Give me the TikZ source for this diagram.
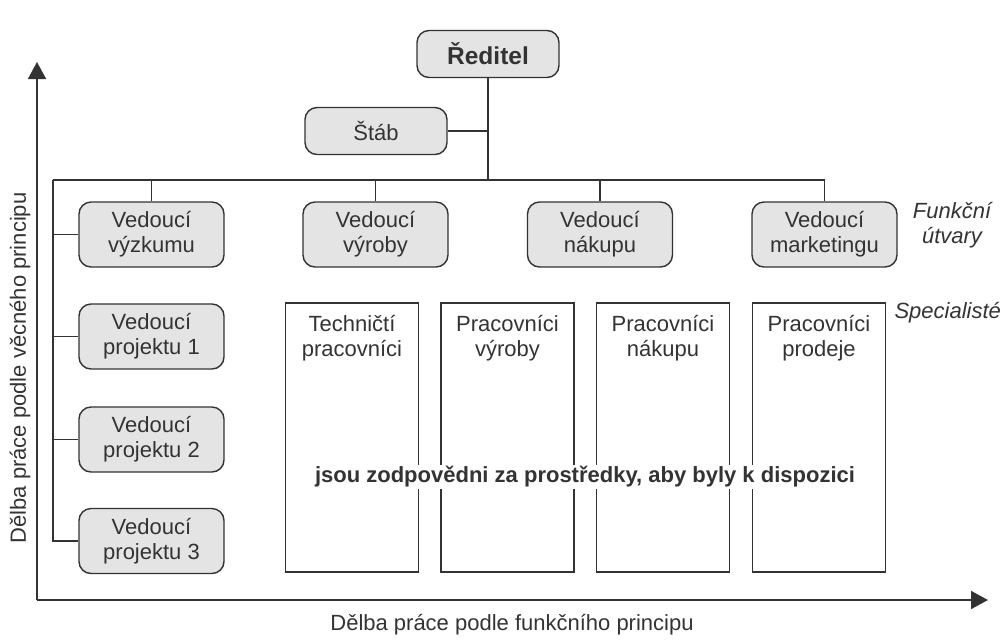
\documentclass[tikz,border=0pt]{standalone}
\usepackage{fontspec}
\setmainfont{Liberation Sans}
\usetikzlibrary{arrows.meta}
\definecolor{ink}{HTML}{333333}
\definecolor{boxfill}{HTML}{E4E4E4}
\begin{document}
\begin{tikzpicture}[x=1pt,y=-1pt,
  txt/.style={text=ink, font=\fontsize{22}{25}\selectfont},
  lead/.style={txt, draw=ink, line width=1.4pt, fill=boxfill, rounded corners=12pt,
    minimum width=145pt, minimum height=65pt, align=center, inner sep=2pt},
  head/.style={lead, minimum width=142pt, minimum height=47pt},
  staffbox/.style={draw=ink, line width=1.4pt, minimum width=133pt, minimum height=269pt, inner sep=0pt},
  stafftext/.style={txt, align=center, anchor=north, inner sep=2pt, yshift=-11pt},
  note/.style={txt, font=\fontsize{22}{25}\selectfont\itshape, align=center},
  wire/.style={draw=ink, line width=1.4pt},
  axis/.style={draw=ink, line width=1.6pt, -{Triangle[length=17pt,width=18pt]}}
]
\useasboundingbox (0,0) rectangle (1004,641);

% top of the hierarchy
\node[head, font=\fontsize{24.5}{28}\selectfont\bfseries] (dir) at (488,54) {Ředitel};
\node[head] (stab) at (376,131) {Štáb};

% functional managers
\node[lead] (vyz) at (151.5,234.5) {Vedoucí\\výzkumu};
\node[lead] (vyr) at (375.5,234.5) {Vedoucí\\výroby};
\node[lead] (nak) at (600,234.5) {Vedoucí\\nákupu};
\node[lead] (mkt) at (824.5,234.5) {Vedoucí\\marketingu};

% project managers
\node[lead] (p1) at (151.5,336.5) {Vedoucí\\projektu 1};
\node[lead] (p2) at (151.5,439.5) {Vedoucí\\projektu 2};
\node[lead] (p3) at (151.5,541) {Vedoucí\\projektu 3};

% specialist columns
\node[staffbox] (tech) at (352,437.5) {};
\node[staffbox] (prv) at (507.5,437.5) {};
\node[staffbox] (prn) at (663,437.5) {};
\node[staffbox] (prp) at (819,437.5) {};
\node[stafftext] (techT) at (tech.north) {Techničtí\\pracovníci};
\node[stafftext] (prvT) at (prv.north) {Pracovníci\\výroby};
\node[stafftext] (prnT) at (prn.north) {Pracovníci\\nákupu};
\node[stafftext] (prpT) at (prp.north) {Pracovníci\\prodeje};

% side notes
\node[note] (funk) at (952,225) {Funkční\\útvary};
\node[note, anchor=west] (spec) at (891,313) {Specialisté};

% connectors
\coordinate (busL) at (53,180);
\coordinate (busR) at (824.5,180);
\draw[wire] (dir.south) -- (dir.south |- busL);
\draw[wire] (stab.east) -- (stab.east -| dir.south);
\draw[wire] (busL) -- (busR);
\draw[wire] (vyz.north) -- (vyz.north |- busL);
\draw[wire] (vyr.north) -- (vyr.north |- busL);
\draw[wire] (nak.north) -- (nak.north |- busL);
\draw[wire] (mkt.north) -- (mkt.north |- busL);
\draw[wire] (busL) |- (p3.west);
\draw[wire] (vyz.west) -- (vyz.west -| busL);
\draw[wire] (p1.west) -- (p1.west -| busL);
\draw[wire] (p2.west) -- (p2.west -| busL);

% shared responsibility across the columns
\node[txt, font=\fontsize{22}{25}\selectfont\bfseries, fill=white, inner sep=1.5pt] (resp) at (585,477)
  {jsou zodpovědni za prostředky, aby byly k dispozici};

% axes
\coordinate (origin) at (37,600);
\coordinate (ytip) at (37,62);
\coordinate (xtip) at (988,600);
\draw[axis] (origin) -- (ytip);
\draw[axis] (origin) -- (xtip);
\node[txt] (xlab) at (512,625) {Dělba práce podle funkčního principu};
\node[txt, rotate=90] (ylab) at (20,368) {Dělba práce podle věcného principu};
\end{tikzpicture}
\end{document}
